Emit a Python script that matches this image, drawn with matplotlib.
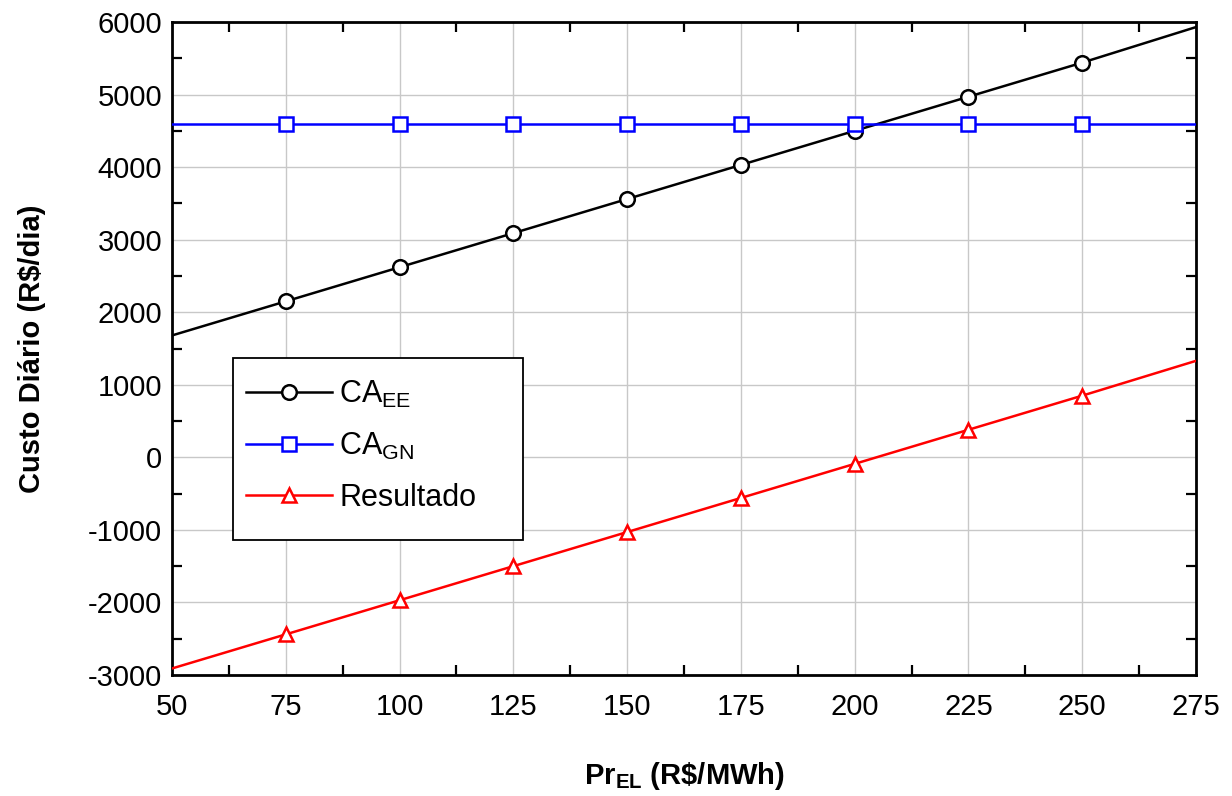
import matplotlib
matplotlib.use("Agg")
import matplotlib.pyplot as plt
from matplotlib.patches import Rectangle
from matplotlib.ticker import MultipleLocator

plt.rcParams['font.family'] = ['Liberation Sans', 'DejaVu Sans']
plt.rcParams['axes.unicode_minus'] = False
plt.rcParams['mathtext.fontset'] = 'custom'
plt.rcParams['mathtext.rm'] = 'Liberation Sans'
plt.rcParams['mathtext.bf'] = 'Liberation Sans:bold'

# preço da eletricidade (R$/MWh); extremos 50 e 275 só para a linha
pr_el = [50, 75, 100, 125, 150, 175, 200, 225, 250, 275]
ca_ee = [1680, 2150, 2620, 3090, 3560, 4030, 4500, 4970, 5440, 5930]
ca_gn = [4590, 4590, 4590, 4590, 4590, 4590, 4590, 4590, 4590, 4590]
resultado = [-2910, -2440, -1970, -1500, -1030, -560, -90, 380, 850, 1330]

fig = plt.figure(figsize=(12.32, 7.96), dpi=100)
ax = fig.add_axes([172 / 1232, 1 - 675 / 796, 1024 / 1232, 653 / 796])

mk = slice(1, -1)
ax.plot(pr_el, ca_ee, color='black', lw=1.8, marker='o', ms=10.5, mfc='white',
        mew=1.8, markevery=mk, label='CA$_{\\mathregular{EE}}$', zorder=3)
ax.plot(pr_el, ca_gn, color='blue', lw=1.8, marker='s', ms=10, mfc='white',
        mew=1.8, markevery=mk, label='CA$_{\\mathregular{GN}}$', zorder=3)
ax.plot(pr_el, resultado, color='red', lw=1.8, marker='^', ms=10.5, mfc='white',
        mew=1.8, markevery=mk, label='Resultado', zorder=3)

ax.set_xlim(50, 275)
ax.set_ylim(-3000, 6000)
ax.xaxis.set_major_locator(MultipleLocator(25))
ax.xaxis.set_minor_locator(MultipleLocator(12.5))
ax.yaxis.set_major_locator(MultipleLocator(1000))
ax.yaxis.set_minor_locator(MultipleLocator(500))
ax.grid(True, which='major', color='#c8c8c8', lw=1)
ax.tick_params(which='major', length=0, labelsize=21)
ax.tick_params(axis='x', which='major', pad=13)
ax.tick_params(axis='y', which='major', pad=7)
ax.tick_params(which='minor', direction='in', length=7, width=1.6,
               top=True, right=True)
for s in ax.spines.values():
    s.set_linewidth(2)

ax.set_xlabel('Pr$_{\\mathbf{EL}}$ (R\\$/MWh)', fontsize=21,
              fontweight='bold', labelpad=28)
ax.set_ylabel('Custo Diário (R$/dia)', fontsize=21, fontweight='bold',
              labelpad=30)

# moldura da legenda desenhada à parte (mais espaço à direita e em baixo)
frame = Rectangle((0.06, 0.207), 0.283, 0.278, transform=ax.transAxes,
                  facecolor='white', edgecolor='black', lw=1.3, zorder=4)
ax.add_patch(frame)
leg = ax.legend(loc='upper left', bbox_to_anchor=(0.052, 0.485), fontsize=22,
                frameon=False, handlelength=2.8, borderpad=0.68,
                labelspacing=0.68, handletextpad=0.25, borderaxespad=0)
leg.set_zorder(5)

fig.savefig('out.png', dpi=100)
